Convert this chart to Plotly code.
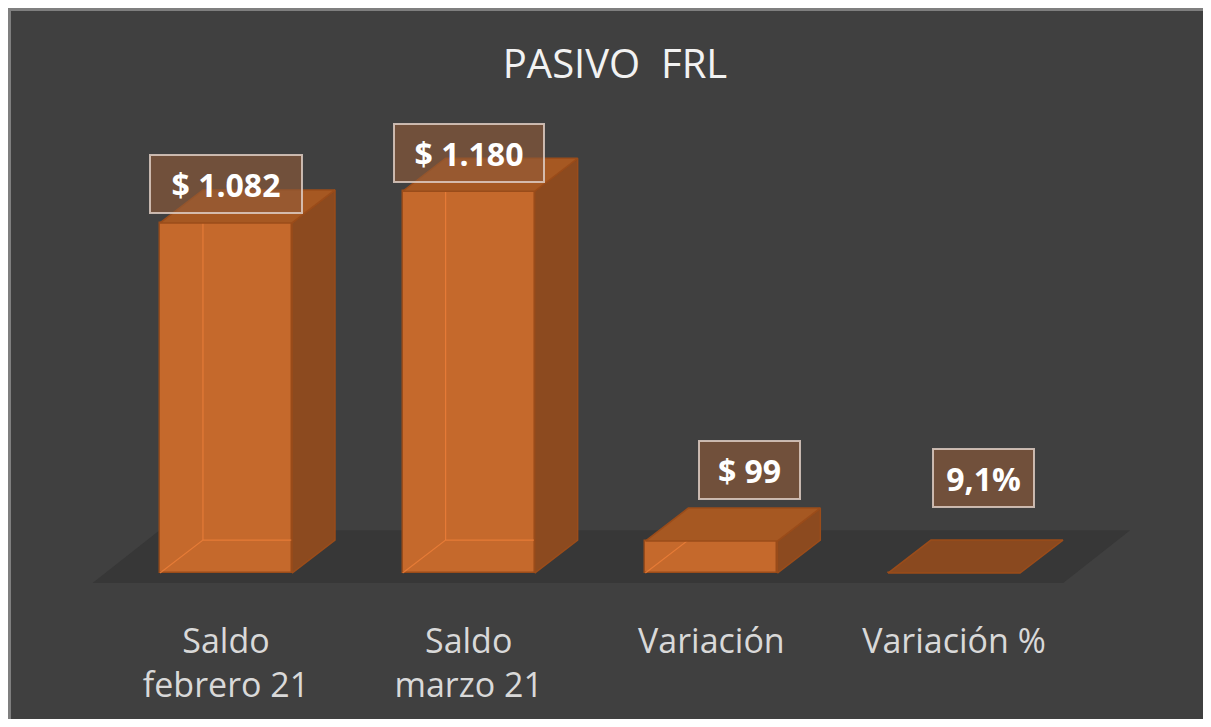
import plotly.graph_objects as go

# Chart data
categories = ['Saldo<br>febrero 21', 'Saldo<br>marzo 21', 'Variación', 'Variación %']
values = [1082, 1180, 99, 0.091]
value_labels = ['$ 1.082', '$ 1.180', '$ 99', '9,1%']

# Colors
BG = '#404040'
FLOOR = '#373737'
FRONT = '#c5692c'
TOP = '#a65822'
SIDE = '#8c4a1f'
EDGE = '#9a4c1a'
INNER = 'rgba(238,128,58,0.8)'
FONT = 'Open Sans'


def bar_faces(x, v, w, dx, dy):
    """Return top, side and hidden-edge polygons for one 3D bar"""
    left, right = x - w / 2, x + w / 2
    top = ([left, right, right + dx, left + dx, left], [v, v, v + dy, v + dy, v])
    side = ([right, right + dx, right + dx, right, right], [0, dy, v + dy, v, 0])
    # back edges seen through the transparent front
    inner = ([left, left + dx, right + dx, None, left + dx, left + dx],
             [0, dy, dy, None, dy, v + dy])
    return top, side, inner


def create_bar3d_chart(categories, values, value_labels):
    """Create an Excel-like 3D column chart"""
    n = len(values)
    xs = list(range(n))
    w = 0.544   # front face width
    dx = 0.177  # depth offset (x units)
    dy = 102    # depth offset (y units)

    fig = go.Figure()

    # Front faces
    fig.add_trace(go.Bar(
        x=xs,
        y=values,
        width=w,
        marker=dict(color=FRONT, line=dict(color=EDGE, width=1.5)),
        hoverinfo='skip'
    ))

    # Top and side faces
    for x, v in zip(xs, values):
        top, side, inner = bar_faces(x, v, w, dx, dy)
        if v > 1:
            fig.add_trace(go.Scatter(
                x=inner[0], y=inner[1], mode='lines',
                line=dict(color=INNER, width=1.2), hoverinfo='skip'
            ))
            fig.add_trace(go.Scatter(
                x=side[0], y=side[1], fill='toself', fillcolor=SIDE, mode='lines',
                line=dict(color=EDGE, width=1.5), hoverinfo='skip'
            ))
        fig.add_trace(go.Scatter(
            x=top[0], y=top[1], fill='toself', fillcolor=TOP if v > 1 else '#8a491f',
            mode='lines', line=dict(color=EDGE, width=1.5), hoverinfo='skip'
        ))

    # Floor under the bars
    fl_left, fl_right = -0.55, n - 0.55
    fl_dx = dx * 1.56
    y_front, y_back = -0.3 * dy, 1.3 * dy
    fig.add_shape(
        type='path', layer='below', line=dict(width=0), fillcolor=FLOOR,
        path=f'M {fl_left},{y_front} L {fl_right},{y_front} L {fl_right + fl_dx},{y_back} '
             f'L {fl_left + fl_dx},{y_back} Z'
    )

    # Data labels
    label_shift = [(0, 39), (0, 38), (38, 71), (29, 95)]  # pixels
    label_width = [134, 132, 83, 83]
    for x, v, text, (sx, sy), bw in zip(xs, values, value_labels, label_shift, label_width):
        fig.add_annotation(
            x=x, y=v, xshift=sx, yshift=sy, text=f'<b>{text}</b>', showarrow=False,
            font=dict(family=FONT, size=32, color='white'),
            bgcolor='rgba(144,91,57,0.62)', bordercolor='rgba(222,205,195,0.85)',
            borderwidth=2, borderpad=8, width=bw, height=40, yanchor='middle'
        )

    # Grey border on the top and left edges (page margin gives the white edge)
    W, H = 1192, 576
    for s in [dict(x0=-3 / W, x1=0, y0=-1, y1=1 + 3 / H),
              dict(x0=-3 / W, x1=1.1, y0=1, y1=1 + 3 / H)]:
        fig.add_shape(type='rect', xref='paper', yref='paper', line=dict(width=0),
                      fillcolor='#7f7f7f', **s)

    # Update layout
    fig.update_layout(
        width=1195,
        height=711,
        margin=dict(l=3, r=0, t=3, b=132),
        paper_bgcolor=BG,
        plot_bgcolor=BG,
        showlegend=False,
        title=dict(
            text='PASIVO&nbsp; FRL', x=607 / 1195, xref='container', xanchor='center',
            y=1 - 56 / 711, yref='container', yanchor='middle',
            font=dict(family=FONT, size=40, color='#f2f2f2')
        ),
        xaxis=dict(
            range=[-0.886, 4.026], tickvals=xs, ticktext=categories,
            showgrid=False, zeroline=False, showline=False,
            ticks='outside', ticklen=24, tickcolor=BG,
            tickfont=dict(family=FONT, size=34, color='#d9d9d9')
        ),
        yaxis=dict(range=[-43, 1737], visible=False),
        bargap=0
    )

    return fig


fig = create_bar3d_chart(categories, values, value_labels)
fig.write_html('out.html')
